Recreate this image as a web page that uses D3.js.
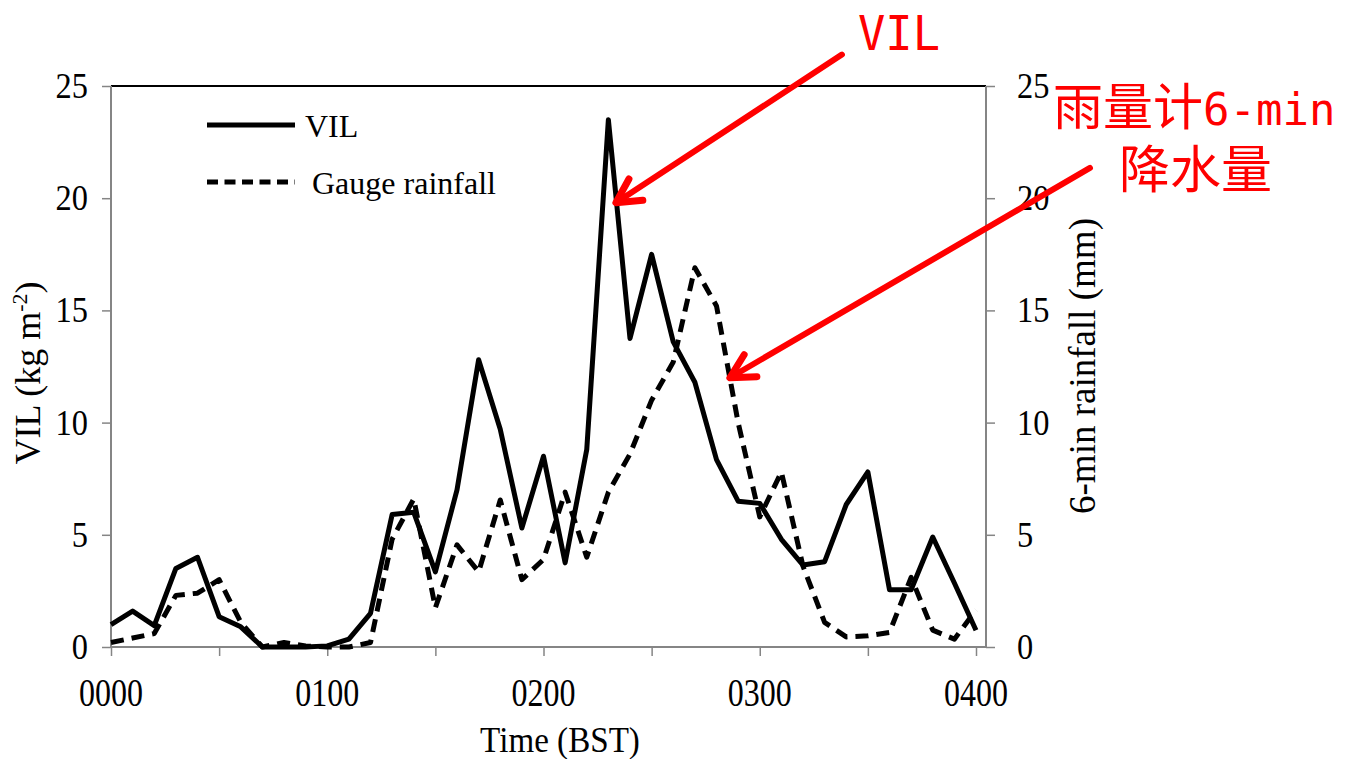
<!DOCTYPE html>
<html>
<head>
<meta charset="utf-8">
<script src="https://cdn.jsdelivr.net/npm/d3@7"></script>
<style>
  body { margin: 0; background: #fff; }
  svg text { font-family: "Liberation Serif", "Times New Roman", serif; fill: #000; }
</style>
</head>
<body>
<svg id="chart" width="1346" height="759"></svg>
<script>
/*
  VIL vs gauge rainfall, 6-min steps from 0000 to 0400 BST
*/

// time steps (6 min each), 0 .. 40
var steps = d3.range(0, 41);
var tickSteps = [0, 5, 10, 15, 20, 25, 30, 35, 40];
var labelSteps = [0, 10, 20, 30, 40];
var labelText = ['0000', '0100', '0200', '0300', '0400'];
var yTicks = [0, 5, 10, 15, 20, 25];

// VIL (kg m-2)
var vil = [1.0, 1.6, 0.95, 3.5, 4.0, 1.35, 0.9, 0, 0, 0,
           0.05, 0.35, 1.5, 5.9, 6.0, 3.35, 7.0, 12.8, 9.7, 5.3,
           8.5, 3.75, 8.8, 23.5, 13.75, 17.5, 13.6, 11.8, 8.35, 6.5,
           6.4, 4.8, 3.65, 3.8, 6.35, 7.8, 2.55, 2.55, 4.9, 2.85,
           0.75];

// gauge 6-min rainfall (mm)
var gauge = [0.2, 0.4, 0.6, 2.3, 2.4, 3.0, 1.1, 0, 0.2, 0.05,
             0, 0, 0.2, 4.8, 6.6, 1.75, 4.55, 3.35, 6.55, 3.0,
             3.9, 6.9, 4.0, 6.9, 8.6, 11.0, 12.7, 16.9, 15.2, 10.0,
             5.8, 7.8, 3.6, 1.1, 0.45, 0.5, 0.65, 3.1, 0.75, 0.35,
             1.65];

// red arrows: tip and tail in (step, value) units
var arrows = [
  {tip: [23.35, 19.8], tail: [33.8, 26.4]},
  {tip: [28.62, 12.0], tail: [45.27, 21.35]}
];

var svg = d3.select('#chart');
var plotLeft = 111, plotRight = 976, boxRight = 986, plotTop = 86, plotBottom = 647;
var axisGray = '#858585';

var x = d3.scaleLinear().domain([0, 40]).range([plotLeft, plotRight]);
var y = d3.scaleLinear().domain([0, 25]).range([plotBottom, plotTop]);
var y2 = d3.scaleLinear().domain([0, 25]).range([plotBottom, plotTop]);

// frame top
svg.append('line').attr('x1', plotLeft).attr('x2', boxRight).attr('y1', plotTop).attr('y2', plotTop)
  .attr('stroke', '#000').attr('stroke-width', 2);

// bottom axis
var xAxis = d3.axisBottom(x).tickValues(tickSteps).tickSize(9).tickFormat('');
var gx = svg.append('g').attr('transform', 'translate(0,' + plotBottom + ')').call(xAxis);
gx.select('.domain').remove();
gx.append('line').attr('x1', plotLeft).attr('x2', boxRight).attr('stroke', axisGray).attr('stroke-width', 2);
gx.selectAll('.tick line').attr('stroke', axisGray).attr('stroke-width', 1.5);

svg.selectAll('.xlab').data(labelSteps).enter().append('text')
  .attr('transform', function(d) { return 'translate(' + x(d) + ',706) scale(0.8,1)'; })
  .attr('text-anchor', 'middle')
  .style('font-size', '40px')
  .text(function(d, i) { return labelText[i]; });

// left axis
var yAxis = d3.axisLeft(y).tickValues(yTicks).tickSize(9).tickFormat('');
var gy = svg.append('g').attr('transform', 'translate(' + plotLeft + ',0)').call(yAxis);
gy.select('.domain').attr('stroke', axisGray).attr('stroke-width', 2).attr('d', 'M0,' + plotTop + 'V' + plotBottom);
gy.selectAll('.tick line').attr('stroke', axisGray).attr('stroke-width', 1.5);
svg.selectAll('.ylab').data(yTicks).enter().append('text')
  .attr('transform', function(d) { return 'translate(88,' + (y(d) + 12) + ') scale(0.9,1)'; })
  .attr('text-anchor', 'end')
  .style('font-size', '36px')
  .text(function(d) { return d; });

// right axis
var yAxis2 = d3.axisRight(y2).tickValues(yTicks).tickSize(9).tickFormat('');
var gy2 = svg.append('g').attr('transform', 'translate(' + boxRight + ',0)').call(yAxis2);
gy2.select('.domain').attr('stroke', axisGray).attr('stroke-width', 2).attr('d', 'M0,' + plotTop + 'V' + plotBottom);
gy2.selectAll('.tick line').attr('stroke', axisGray).attr('stroke-width', 1.5);
svg.selectAll('.ylab2').data(yTicks).enter().append('text')
  .attr('transform', function(d) { return 'translate(1017,' + (y2(d) + 12) + ') scale(0.9,1)'; })
  .attr('text-anchor', 'start')
  .style('font-size', '36px')
  .text(function(d) { return d; });

// axis titles
svg.append('text').attr('transform', 'translate(560,752) scale(0.92,1)')
  .attr('text-anchor', 'middle').style('font-size', '36px').text('Time (BST)');

var lt = svg.append('text').attr('transform', 'translate(40,373) rotate(-90)')
  .attr('text-anchor', 'middle').style('font-size', '36px');
lt.append('tspan').text('VIL (kg m');
lt.append('tspan').attr('dy', -13).style('font-size', '22px').text('-2');
lt.append('tspan').attr('dy', 13).text(')');

svg.append('text').attr('transform', 'translate(1095,366) rotate(-90)')
  .attr('text-anchor', 'middle').style('font-size', '37px').text('6-min rainfall (mm)');

// series
var line = d3.line().x(function(d, i) { return x(steps[i]); });

svg.append('path').datum(gauge)
  .attr('d', line.y(function(d) { return y2(d); }))
  .attr('fill', 'none').attr('stroke', '#000').attr('stroke-width', 5)
  .attr('stroke-dasharray', '13,8').attr('stroke-linejoin', 'round');

svg.append('path').datum(vil)
  .attr('d', line.y(function(d) { return y(d); }))
  .attr('fill', 'none').attr('stroke', '#000').attr('stroke-width', 5)
  .attr('stroke-linejoin', 'round');

// legend
svg.append('line').attr('x1', 207).attr('x2', 295).attr('y1', 125).attr('y2', 125)
  .attr('stroke', '#000').attr('stroke-width', 5);
svg.append('text').attr('x', 305).attr('y', 137).style('font-size', '32px').text('VIL');
svg.append('line').attr('x1', 207).attr('x2', 295).attr('y1', 182).attr('y2', 182)
  .attr('stroke', '#000').attr('stroke-width', 5).attr('stroke-dasharray', '11,6.5');
svg.append('text').attr('x', 312).attr('y', 194).style('font-size', '32px').text('Gauge rainfall');

// red annotations
var red = '#ff0000';
arrows.forEach(function(a) {
  var tx = x(a.tip[0]), ty = y(a.tip[1]);
  var sx = x(a.tail[0]), sy = y(a.tail[1]);
  var ang = Math.atan2(sy - ty, sx - tx);
  var wl = 27, wa = 28 * Math.PI / 180;
  svg.append('line').attr('x1', sx).attr('y1', sy).attr('x2', tx).attr('y2', ty)
    .attr('stroke', red).attr('stroke-width', 6).attr('stroke-linecap', 'round');
  svg.append('path')
    .attr('d', 'M' + (tx + wl * Math.cos(ang - wa)) + ',' + (ty + wl * Math.sin(ang - wa)) +
               'L' + tx + ',' + ty +
               'L' + (tx + wl * Math.cos(ang + wa)) + ',' + (ty + wl * Math.sin(ang + wa)))
    .attr('fill', 'none').attr('stroke', red).attr('stroke-width', 7)
    .attr('stroke-linecap', 'round').attr('stroke-linejoin', 'round');
});

var mono = '"DejaVu Sans Mono", "Liberation Mono", monospace';
var cjk = '"Noto Sans CJK SC", sans-serif';

svg.append('text').attr('x', 858).attr('y', 50)
  .style('font-family', mono).style('font-size', '48px').style('fill', red)
  .attr('textLength', 82).attr('lengthAdjust', 'spacingAndGlyphs').text('VIL');

var t1 = svg.append('text').attr('x', 1053).attr('y', 125).style('fill', red);
t1.append('tspan').style('font-family', cjk).style('font-size', '50px').text('雨量计');
t1.append('tspan').style('font-family', mono).style('font-size', '44px').text('6-min');

svg.append('text').attr('x', 1119).attr('y', 188).style('fill', red)
  .style('font-family', cjk).style('font-size', '51px').text('降水量');
</script>
</body>
</html>
